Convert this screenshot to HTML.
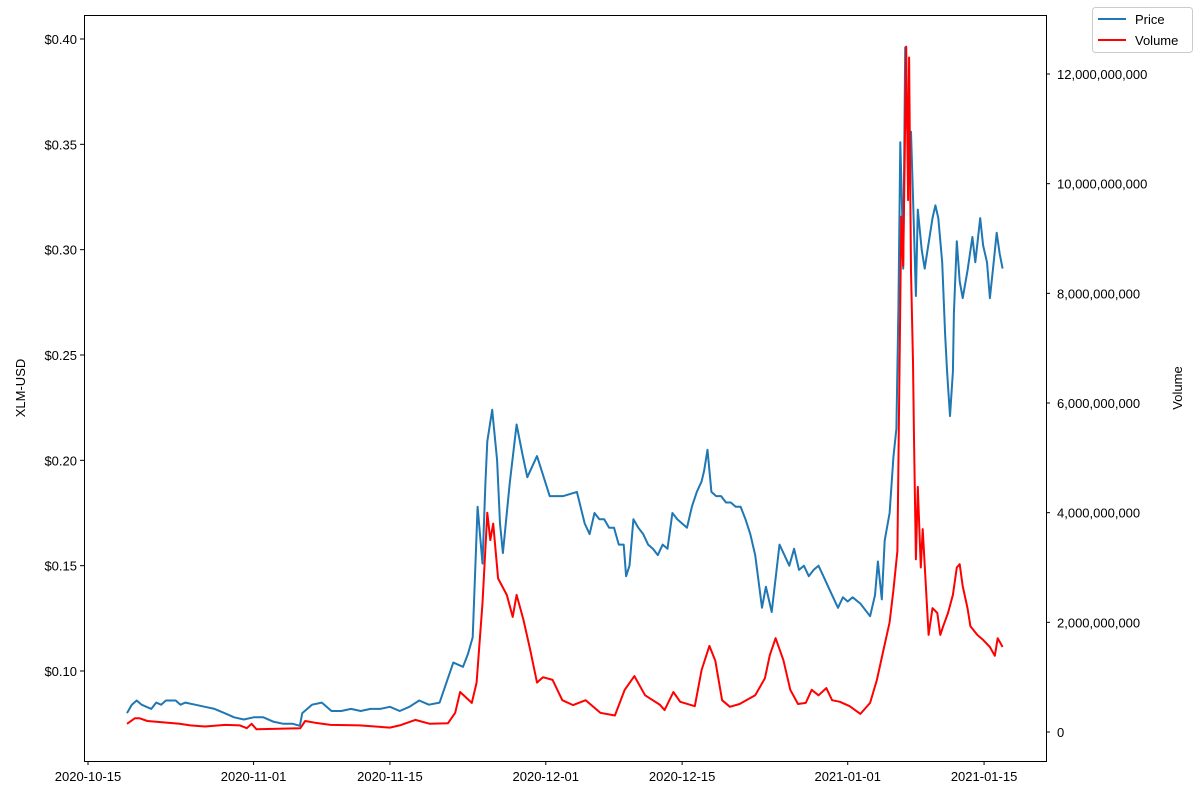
<!DOCTYPE html>
<html><head><meta charset="utf-8"><style>
body{margin:0;background:#fff;font-family:"Liberation Sans","DejaVu Sans",sans-serif}
svg text{font-family:"Liberation Sans","DejaVu Sans",sans-serif;font-size:13px;fill:#000}
</style></head><body>
<svg id="chart" width="1200" height="800" viewBox="0 0 1200 800" xmlns="http://www.w3.org/2000/svg">
<rect x="0" y="0" width="1200" height="800" fill="#fff"/>
<g id="series"></g>
<rect x="84.5" y="15.5" width="962" height="746" fill="none" stroke="#000" stroke-width="1"/>
<g id="axes"></g>
<text transform="translate(25,388) rotate(-90)" text-anchor="middle">XLM-USD</text>
<text transform="translate(1182,388) rotate(-90)" text-anchor="middle">Volume</text>
<g>
<rect x="1092.5" y="7.5" width="100" height="45" rx="3" fill="#fff" stroke="#ccc"/>
<line x1="1098" y1="19" x2="1126" y2="19" stroke="#1f77b4" stroke-width="2"/>
<text x="1135" y="24">Price</text>
<line x1="1098" y1="40" x2="1126" y2="40" stroke="#ff0000" stroke-width="2"/>
<text x="1135" y="45">Volume</text>
</g>
</svg>
<script>
const priceDates=["10-19.0","10-19.5","10-20.0","10-20.5","10-21.0","10-21.5","10-22.0","10-22.5","10-23.0","10-24.0","10-24.5","10-25.0","10-26.0","10-27.0","10-28.0","10-29.0","10-30.0","10-31.0","11-01.0","11-02.0","11-03.0","11-04.0","11-05.0","11-05.75","11-06.0","11-07.0","11-08.0","11-09.0","11-10.0","11-11.0","11-12.0","11-13.0","11-14.0","11-15.0","11-16.0","11-17.0","11-18.0","11-19.0","11-20.1","11-21.5","11-22.5","11-23.0","11-23.5","11-24.0","11-24.5","11-24.8","11-25.0","11-25.5","11-26.0","11-26.3","11-26.6","11-27.3","11-28.0","11-28.6","11-29.1","11-30.1","12-01.4","12-02.8","12-04.2","12-05.0","12-05.5","12-06.0","12-06.5","12-07.0","12-07.5","12-08.0","12-08.5","12-09.0","12-09.25","12-09.6","12-10.0","12-10.5","12-11.0","12-11.5","12-12.0","12-12.5","12-13.0","12-13.5","12-14.0","12-14.5","12-15.0","12-15.5","12-16.0","12-16.5","12-17.0","12-17.25","12-17.6","12-18.0","12-18.5","12-19.0","12-19.5","12-20.0","12-20.5","12-21.0","12-21.5","12-22.0","12-22.5","12-23.2","12-23.6","12-24.2","12-25.0","12-25.5","12-26.0","12-26.5","12-27.0","12-27.5","12-28.0","12-28.5","12-29.0","12-29.5","12-30.0","12-30.5","12-31.0","12-31.5","01-01.0","01-01.5","01-02.3","01-03.3","01-03.8","01-04.1","01-04.5","01-04.8","01-05.3","01-05.7","01-06.0","01-06.2","01-06.4","01-06.6","01-06.7","01-06.9","01-07.2","01-07.5","01-07.7","01-08.0","01-08.2","01-08.6","01-08.9","01-09.2","01-09.7","01-10.0","01-10.3","01-10.7","01-11.0","01-11.2","01-11.5","01-11.8","01-11.9","01-12.2","01-12.5","01-12.8","01-13.3","01-13.8","01-14.1","01-14.6","01-14.9","01-15.3","01-15.6","01-15.9","01-16.3","01-16.6","01-16.9"];
const priceValues=[0.080,0.084,0.086,0.084,0.083,0.082,0.085,0.084,0.086,0.086,0.084,0.085,0.084,0.083,0.082,0.080,0.078,0.077,0.078,0.078,0.076,0.075,0.075,0.074,0.080,0.084,0.085,0.081,0.081,0.082,0.081,0.082,0.082,0.083,0.081,0.083,0.086,0.084,0.085,0.104,0.102,0.108,0.116,0.178,0.151,0.189,0.209,0.224,0.200,0.170,0.156,0.189,0.217,0.203,0.192,0.202,0.183,0.183,0.185,0.170,0.165,0.175,0.172,0.172,0.168,0.168,0.160,0.160,0.145,0.150,0.172,0.168,0.165,0.160,0.158,0.155,0.160,0.158,0.175,0.172,0.170,0.168,0.178,0.185,0.190,0.195,0.205,0.185,0.183,0.183,0.180,0.180,0.178,0.178,0.172,0.165,0.155,0.130,0.140,0.128,0.160,0.155,0.150,0.158,0.148,0.150,0.145,0.148,0.150,0.145,0.140,0.135,0.130,0.135,0.133,0.135,0.132,0.126,0.136,0.152,0.134,0.162,0.175,0.202,0.215,0.272,0.351,0.315,0.291,0.396,0.344,0.356,0.325,0.278,0.319,0.300,0.291,0.300,0.315,0.321,0.315,0.294,0.260,0.242,0.221,0.242,0.270,0.304,0.285,0.277,0.290,0.306,0.294,0.315,0.302,0.294,0.277,0.290,0.308,0.298,0.291];
const volDates=["10-19.0","10-19.8","10-20.3","10-21.1","10-24.4","10-25.5","10-27.0","10-29.1","10-30.6","10-31.3","10-31.8","11-01.3","11-05.8","11-06.3","11-07.3","11-08.9","11-11.9","11-15.0","11-16.0","11-17.6","11-19.1","11-20.96","11-21.7","11-22.2","11-23.4","11-23.9","11-24.5","11-25.0","11-25.3","11-25.6","11-26.1","11-27.0","11-27.6","11-28.0","11-28.7","11-29.4","11-30.1","11-30.7","12-01.7","12-02.7","12-03.8","12-05.1","12-06.6","12-08.1","12-09.1","12-10.1","12-11.2","12-12.7","12-13.2","12-14.1","12-14.8","12-16.3","12-17.0","12-17.8","12-18.4","12-19.1","12-19.9","12-20.9","12-22.5","12-23.5","12-24.0","12-24.6","12-25.4","12-26.1","12-26.9","12-27.7","12-28.3","12-29.0","12-29.8","12-30.4","12-31.2","01-01.2","01-02.3","01-03.3","01-04.0","01-04.6","01-05.3","01-05.7","01-06.1","01-06.3","01-06.5","01-06.7","01-07.0","01-07.2","01-07.3","01-07.5","01-07.7","01-07.8","01-08.0","01-08.2","01-08.5","01-08.7","01-09.1","01-09.3","01-09.7","01-10.2","01-10.5","01-10.8","01-11.3","01-11.8","01-12.2","01-12.5","01-12.8","01-13.3","01-13.6","01-14.3","01-14.9","01-15.6","01-16.1","01-16.4","01-16.9"];
const volValues=[0.15,0.25,0.25,0.20,0.15,0.12,0.10,0.13,0.12,0.07,0.15,0.05,0.07,0.20,0.17,0.13,0.12,0.08,0.12,0.22,0.15,0.16,0.35,0.73,0.53,0.90,2.35,4.0,3.5,3.8,2.8,2.5,2.1,2.5,2.05,1.5,0.9,1.0,0.95,0.58,0.49,0.58,0.35,0.30,0.77,1.02,0.67,0.50,0.40,0.73,0.55,0.47,1.13,1.57,1.30,0.58,0.46,0.51,0.67,0.98,1.40,1.71,1.31,0.77,0.51,0.53,0.77,0.67,0.80,0.58,0.55,0.47,0.33,0.53,0.95,1.44,2.0,2.6,3.3,6.3,9.4,8.5,12.5,9.7,12.3,8.4,6.75,5.36,3.15,4.47,3.0,3.7,2.42,1.77,2.26,2.17,1.77,1.93,2.17,2.5,3.0,3.06,2.66,2.26,1.93,1.77,1.68,1.55,1.39,1.71,1.55];
const dateTicks=["2020-10-15","2020-11-01","2020-11-15","2020-12-01","2020-12-15","2021-01-01","2021-01-15"];
const priceTicks=[0.10,0.15,0.20,0.25,0.30,0.35,0.40];
const volTicks=[0,2,4,6,8,10,12];

const NS="http://www.w3.org/2000/svg";
const base=Date.UTC(2020,9,15);
function parseShort(s){const [m,dd]=s.split("-");const mm=Number(m);const df=Number(dd);const d=Math.floor(df);const y=mm>=10?2020:2021;return (Date.UTC(y,mm-1,d)-base)/86400000+(df-d);}
function parseFull(s){const [y,m,d]=s.split("-").map(Number);return (Date.UTC(y,m-1,d)-base)/86400000;}
function xScale(day){return 88+day*9.74;}
function yPrice(v){return 671-(v-0.10)*2106.7;}
function yVol(b){return 732-b*(658/12);}
function mk(tag,attrs,parent){const e=document.createElementNS(NS,tag);for(const k in attrs)e.setAttribute(k,attrs[k]);parent.appendChild(e);return e;}
const axes=document.getElementById("axes"),series=document.getElementById("series");

dateTicks.forEach(t=>{const x=xScale(parseFull(t));
 const l=mk("line",{x1:x,x2:x,y1:761,y2:765,stroke:"#000"},axes);
 
 
 const tx=mk("text",{x:x,y:781,"text-anchor":"middle"},axes);tx.textContent=t;
 
 });
priceTicks.forEach(v=>{const y=yPrice(v);
 const l=mk("line",{x1:80,x2:84,y1:y,y2:y,stroke:"#000"},axes);
 
 
 const tx=mk("text",{x:77,y:y+5,"text-anchor":"end"},axes);tx.textContent="$"+v.toFixed(2);
 
 });
volTicks.forEach(v=>{const y=yVol(v);
 const l=mk("line",{x1:1046,x2:1050,y1:y,y2:y,stroke:"#000"},axes);
 
 
 const tx=mk("text",{x:1057,y:y+5,"text-anchor":"start"},axes);tx.textContent=(v*1e9).toLocaleString("en-US");
 
 });

const pp=priceDates.map((d,i)=>xScale(parseShort(d)).toFixed(1)+","+yPrice(priceValues[i]).toFixed(1)).join(" ");
const pl=mk("polyline",{points:pp,fill:"none",stroke:"#1f77b4","stroke-width":2,"stroke-linejoin":"round"},series);


const vp=volDates.map((d,i)=>xScale(parseShort(d)).toFixed(1)+","+yVol(volValues[i]).toFixed(1)).join(" ");
const vl=mk("polyline",{points:vp,fill:"none",stroke:"#ff0000","stroke-width":2,"stroke-linejoin":"round"},series);


</script>
</body></html>
